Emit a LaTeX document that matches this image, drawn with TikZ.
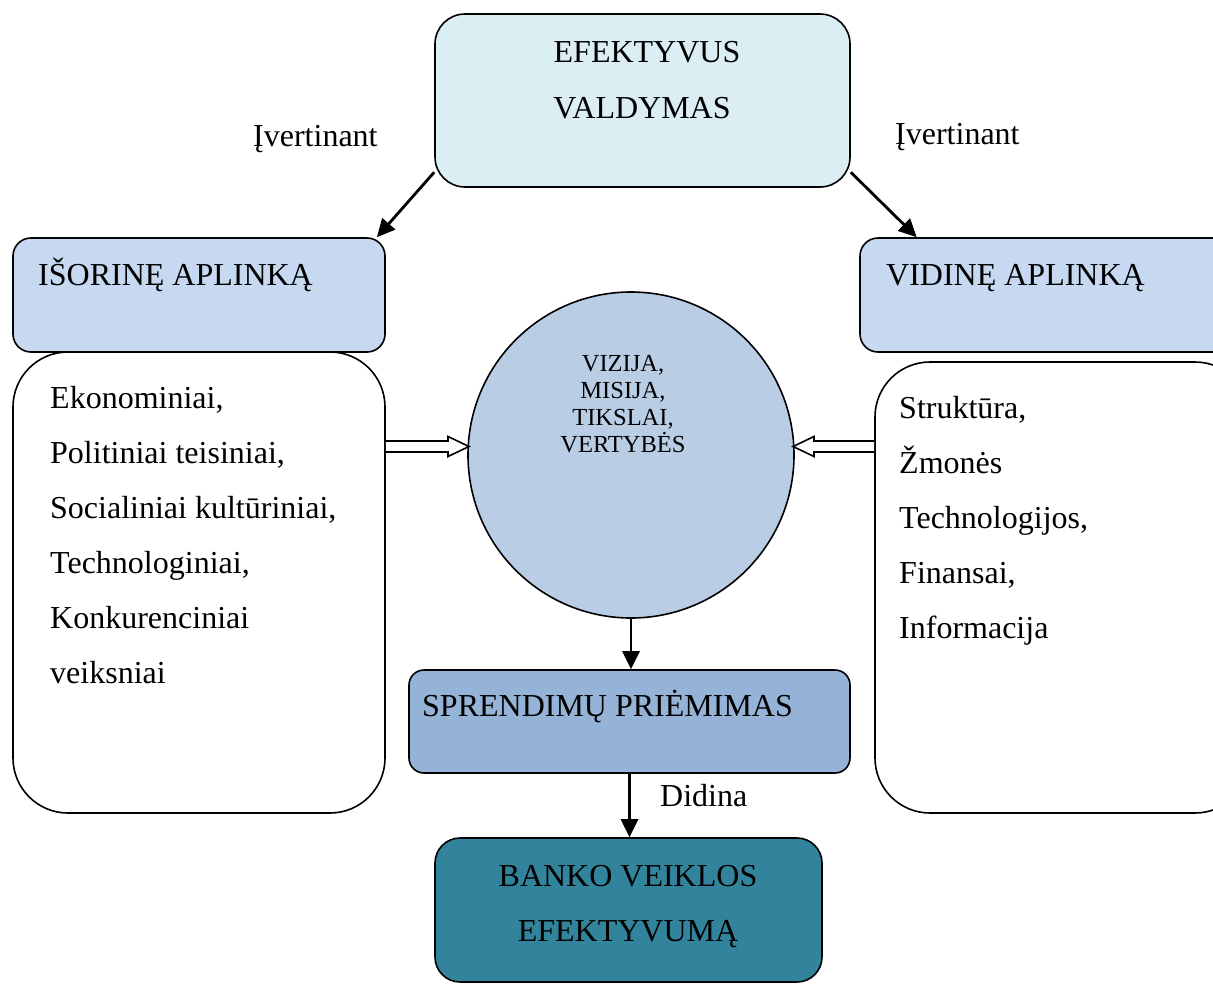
\documentclass[tikz,border=0pt]{standalone}
\usepackage{fontspec}
\setmainfont{Liberation Serif}
\usetikzlibrary{arrows.meta,calc}
\definecolor{topc}{HTML}{DBEEF4}
\definecolor{headc}{HTML}{C6D9F1}
\definecolor{circc}{HTML}{B9CDE5}
\definecolor{sprc}{HTML}{95B3D7}
\definecolor{bankc}{HTML}{31849B}
\begin{document}
\begin{tikzpicture}[x=1pt,y=-1pt,
  box/.style={draw, line width=1.6, inner sep=0, rectangle},
  conn/.style={draw, line width=2.8, -{Triangle[length=18pt,width=17pt]}},
  darrow/.style={draw, line width=1.6, fill=white, line join=miter},
  txt/.style={inner sep=0, anchor=base west, font=\fontsize{32}{38}\selectfont},
  ctxt/.style={inner sep=0, anchor=base, font=\fontsize{32}{38}\selectfont},
  stxt/.style={inner sep=0, anchor=base, font=\fontsize{24.5}{28}\selectfont}]
\useasboundingbox (0,0) rectangle (1213,983);
% boxes
\node[box, fill=white, rounded corners=55, minimum width=372, minimum height=461] (lbox) at (199,582.5) {};
\node[box, fill=white, rounded corners=55, minimum width=375, minimum height=451] (rbox) at (1062.5,587.5) {};
\node[box, fill=topc, rounded corners=30, minimum width=415, minimum height=173] (top) at (642.5,100.5) {};
\node[box, fill=headc, rounded corners=18, minimum width=372, minimum height=114] (lhead) at (199,295) {};
\node[box, fill=headc, rounded corners=18, minimum width=373, minimum height=114] (rhead) at (1046.5,295) {};
\node[draw, line width=1.6, circle, fill=circc, inner sep=0, minimum size=326] (circ) at (631,455) {};
\node[box, fill=sprc, rounded corners=15, minimum width=441, minimum height=103] (spr) at (629.5,721.5) {};
\node[box, fill=bankc, rounded corners=25, minimum width=387, minimum height=144] (bank) at (628.5,910) {};
% connectors
\draw[conn] (top.199.2) -- (lhead.18.64);
\draw[conn] (top.341) -- (rhead.156.6);
\draw[conn] (circ.south) -- (circ.south |- spr.north);
\draw[conn] (spr.south) -- (spr.south |- bank.north);
% double arrows
\coordinate (Lt) at (lbox.east |- 0,446.5);
\coordinate (Lh) at (469,446.5);
\draw[darrow] ($(Lt)+(0,-5.5)$) -- ($(Lh)+(-21,-5.5)$) -- ($(Lh)+(-21,-10)$) -- (Lh) -- ($(Lh)+(-21,10)$) -- ($(Lh)+(-21,5.5)$) -- ($(Lt)+(0,5.5)$);
\coordinate (Rt) at (rbox.west |- 0,446.5);
\coordinate (Rh) at (793,446.5);
\draw[darrow] ($(Rt)+(0,-5.5)$) -- ($(Rh)+(21,-5.5)$) -- ($(Rh)+(21,-10)$) -- (Rh) -- ($(Rh)+(21,10)$) -- ($(Rh)+(21,5.5)$) -- ($(Rt)+(0,5.5)$);
% texts
\node[ctxt] (t1) at (647,62) {EFEKTYVUS};
\node[ctxt] (t2) at (642,118) {VALDYMAS};
\node[txt] (iv1) at (253,146) {Įvertinant};
\node[txt] (iv2) at (895,144) {Įvertinant};
\node[txt] (lh) at (38,285) {IŠORINĘ APLINKĄ};
\node[txt] (rh) at (886,285) {VIDINĘ APLINKĄ};
\node[txt] (l1) at (50,408) {Ekonominiai,};
\node[txt] (l2) at (50,463) {Politiniai teisiniai,};
\node[txt] (l3) at (50,518) {Socialiniai kultūriniai,};
\node[txt] (l4) at (50,573) {Technologiniai,};
\node[txt] (l5) at (50,628) {Konkurenciniai};
\node[txt] (l6) at (50,683) {veiksniai};
\node[txt] (r1) at (899,418) {Struktūra,};
\node[txt] (r2) at (899,473) {Žmonės};
\node[txt] (r3) at (899,528) {Technologijos,};
\node[txt] (r4) at (899,583) {Finansai,};
\node[txt] (r5) at (899,638) {Informacija};
\node[stxt] (c1) at (623,371) {VIZIJA,};
\node[stxt] (c2) at (623,398) {MISIJA,};
\node[stxt] (c3) at (623,425) {TIKSLAI,};
\node[stxt] (c4) at (623,452) {VERTYBĖS};
\node[txt] (st) at (422,716) {SPRENDIMŲ PRIĖMIMAS};
\node[txt] (did) at (660,806) {Didina};
\node[ctxt] (b1) at (628,886) {BANKO VEIKLOS};
\node[ctxt] (b2) at (628,941) {EFEKTYVUMĄ};
\end{tikzpicture}
\end{document}
